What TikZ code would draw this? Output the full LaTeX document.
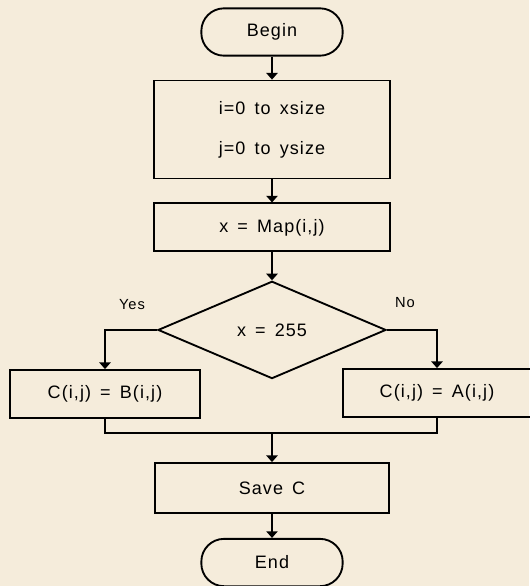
\documentclass[tikz,border=0pt]{standalone}
\usepackage{fontspec}
\setmainfont{Liberation Sans}[LetterSpace=6,WordSpace=1.5]
\usetikzlibrary{arrows.meta,positioning,shapes.geometric}
\definecolor{paper}{RGB}{245,236,219}

\begin{document}
\begin{tikzpicture}[x=0.75pt,y=-0.75pt,
  term/.style={draw,rounded corners=17pt,minimum width=106pt,minimum height=35.5pt,font=\fontsize{13.5}{16}\selectfont},
  box/.style={draw,minimum width=177pt,minimum height=36pt,font=\fontsize{13.5}{16}\selectfont},
  cond/.style={draw,diamond,minimum width=171pt,minimum height=73pt,inner sep=0pt,font=\fontsize{13.5}{16}\selectfont},
  lbl/.style={font=\fontsize{11}{13}\selectfont},
  arr/.style={-{Triangle[length=5pt,width=8.5pt]}},
  line width=1.4pt,node distance=17.25pt]
\fill[paper] (0,0) rectangle (529,586);
\useasboundingbox (0,0) rectangle (529,586);
\node[term] (begin) at (272,32) {Begin};
\node[box,below=of begin,minimum height=73.5pt,align=center,font=\fontsize{13.5}{30}\selectfont] (loop) {i=0 to xsize\\j=0 to ysize};
\node[box,below=of loop] (map) {x = Map(i,j)};
\node[cond,below=21pt of map] (test) {x = 255};
\node[box,minimum width=143pt] (bset) at (105,394) {C(i,j) = B(i,j)};
\node[box,minimum width=141pt] (aset) at (437,393) {C(i,j) = A(i,j)};
\node[lbl] (yes) at (132,305) {Yes};
\node[lbl] (no) at (405,303) {No};
\coordinate (merge) at (272,433);
\node[box,minimum width=176pt,minimum height=37.5pt] (save) at (272,488) {Save C};
\node[term,below=18pt of save] (end) {End};
\draw[arr] (begin)--(loop);
\draw[arr] (loop)--(map);
\draw[arr] (map)--(test);
\draw[arr] (test.west)-|(bset.north);
\draw[arr] (test.east)-|(aset.north);
\draw (bset.south)--(bset.south|-merge)--(aset.south|-merge)--(aset.south);
\draw[arr] (merge)--(save);
\draw[arr] (save)--(end);
\end{tikzpicture}
\end{document}
